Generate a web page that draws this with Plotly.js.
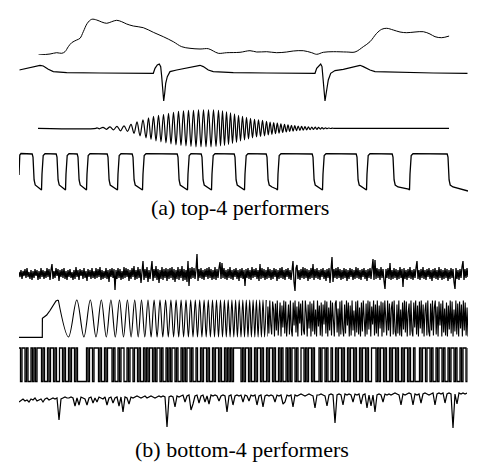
<!DOCTYPE html>
<html><head><meta charset="utf-8">
<script src="https://cdn.plot.ly/plotly-3.0.1.min.js"></script>
<style>html,body{margin:0;padding:0;background:#fff}</style>
</head><body>
<div id="chart" style="width:482px;height:465px"></div>
<script>
// ---- (a) top-4 performers ----
const t1 = [38.3,50,56.7,61.7,65,68.3,71.7,76.7,80,83.3,87.3,91.7,96.7,101.7,106.7,111.7,116.7,121.7,126.7,133.3,143.3,153.3,163.3,173.3,181.7,190,200,208.3,213.3,218.3,226.7,240,250,256.7,266.7,276.7,286.7,293.3,303.3,311.7,316.7,323.3,333.3,346.7,355,363.3,370,376.7,381.7,386.7,393.3,400,406.7,415,423.3,430,435,441.7,449.3];
const s1 = [0,1,2.3,1.7,3.3,8.3,12.3,15,16.7,23.3,31.7,35.7,35,33,31.7,33.3,34.7,33.3,31,29,27.3,22.7,18.3,13.3,8.3,6.7,6,6.3,4,1.7,2.3,2.7,4.3,3,3.3,2.3,3,4,4.3,2.3,0.7,2.7,3.3,3,3,8.3,13.3,21.7,25.7,26.7,25,23,22.3,23,23.3,21,18.3,17.3,19];

const t2 = [19.3,26.7,33.3,40,43.3,48.3,53.3,66.7,100,138.3,153.3,155,157.3,159.3,160.7,161.7,162.7,163.7,164.7,165.7,167.3,170,176.7,186.7,196.7,200,203.3,208.3,213.3,233.3,266.7,315,316.7,319.3,320.7,322,323.3,325,326.7,328.3,330.7,335,343.3,353.3,360,363.3,370,375,400,433.3,467.7];
const s2 = [3.3,5,6.7,8,7.3,4,1.7,0.7,0.3,0,0,5,8.3,9.3,6.7,-3.3,-16.7,-27.7,-20,-10,-3.3,1.7,3.3,5,7.3,8,6.7,3.3,1.7,0.7,0.3,0,5,8.3,9.3,6.7,-6.7,-27.7,-16.7,-6.7,0,2.7,4,6.7,8,6.7,3.3,1.7,1,0.3,0];

const t3 = [38,96,97,99.5,103,106.5,110,113.5,117,120.5,124,127.5,131,134,137,140,143,146,148.5,151,153.5,156,158.5,161,163.5,166,168.5,171,173.5,176,178.5,181,183.5,186,188.5,191,193.5,196,198.5,201,203.5,206,208.5,211,213.5,216,218.5,220.5,222.5,224.5,226.5,228.5,230.5,232.5,234.5,236.5,238.5,240.5,242.5,244.5,246.5,248.5,250.5,252.5,254.5,256.5,258.5,260.5,262.5,264.5,266.5,268.3,270.1,271.9,273.7,275.5,277.3,279.1,280.9,282.7,284.5,286.3,288,289.7,291.4,293.1,294.8,296.5,298.2,299.9,301.6,303.3,305,306.7,308.4,310.1,311.8,313.5,315.2,316.9,318.6,320.3,322,323.7,325.4,327.1,328.8,330.5,332.2,334,449];
const s3 = [0,0,0.5,-0.5,1,-1,1.5,-1.5,2,-2.5,2.5,-3,4,-5,6.5,-7.5,8.5,-9.5,10.5,-11,12,-12.5,13,-13.5,14,-14.5,15,-15.5,16,-16.5,17,-17,17.5,-17.5,18,-18,18,-18.5,18.5,-18.5,18.5,-18.5,18.5,-18.5,18.5,-18,18,-17.5,17.5,-17,16.5,-16,15.5,-15,14.5,-14,13,-12.5,12,-11.5,11,-10.5,10,-9.5,9,-8.5,8.5,-8,8,-7.5,7,-6.5,6.3,-6,5.7,-5.4,5.1,-4.8,4.5,-4.2,4,-3.7,3.4,-3.2,3,-2.8,2.6,-2.4,2.2,-2,1.9,-1.8,1.7,-1.6,1.5,-1.4,1.3,-1.2,1.1,-1,0.9,-0.8,0.7,-0.6,0.5,-0.4,0.3,-0.2,0.1,0,0];

const t4 = [19,19.3,19.8,21,
 32.2,33,33.5,34.1,35.2,38,40.5,41.5,42,42.4,43.2,45,
 56.2,57,57.5,58.1,59.2,62,64.5,65.5,66,66.4,67.2,69,
 77.2,78,78.5,79.1,80.2,83,85.5,86.5,87,87.4,88.2,90,
 107.2,108,108.5,109.1,110.2,113,116.5,117.5,118,118.4,119.2,121,
 132.2,133,133.5,134.1,135.2,138,141.5,142.5,143,143.4,144.2,146,
 177.2,178,178.5,179.1,180.2,183,186.5,187.5,188,188.4,189.2,191,
 201.2,202,202.5,203.1,204.2,207,210.5,211.5,212,212.4,213.2,215,
 234.2,235,235.5,236.1,237.2,240,243.5,244.5,245,245.4,246.2,248,
 266.2,267,267.5,268.1,269.2,272,276.5,277.5,278,278.4,279.2,281,
 312.2,313,313.5,314.1,315.2,318,321.5,322.5,323,323.4,324.2,326,
 356.2,357,357.5,358.1,359.2,362,365.5,366.5,367,367.4,368.2,370,
 392.2,393,393.5,394.1,395.2,398,408.5,409.5,410,410.4,411.2,413,
 447.2,448,448.5,449.1,450.2,453,468];
const s4 = [15,30,35,36.5,
 36,33,20,10,5,3,1,0,16,30,34.5,36.3,
 36,33,20,10,5,3,1,0,16,30,34.5,36.3,
 36,33,20,10,5,3,1,0,16,30,34.5,36.3,
 36,33,20,10,5,3,1,0,16,30,34.5,36.3,
 36,33,20,10,5,3,1,0,16,30,34.5,36.3,
 36,33,20,10,5,3,1,0,16,30,34.5,36.3,
 36,33,20,10,5,3,1,0,16,30,34.5,36.3,
 36,33,20,10,5,3,1,0,16,30,34.5,36.3,
 36,33,20,10,5,3,1,0,16,30,34.5,36.3,
 36,33,20,10,5,3,1,0,16,30,34.5,36.3,
 36,33,20,10,5,3,1,0,16,30,34.5,36.3,
 36,33,20,10,5,3,1,0,16,30,34.5,36.3,
 36,33,20,10,5,3,-1];

// ---- (b) bottom-4 performers ----
const s5 = [2,-3,4,-5,3,-2,5,-4,6,-3,2,-5,4,-6,3,-4,5,-2,4,-6,3,-5,6,-3,4,
 -5,3,-4,6,-3,5,-6,4,10,-5,3,-4,6,-2,5,-7,4,-3,5,-4,6,-5,3,-6,4,
 -3,5,-4,2,-6,4,-5,7,-3,4,-6,5,-2,4,-5,6,-4,3,-7,5,-3,4,-5,6,-4,
 3,-5,6,-4,5,-3,7,-6,4,-5,3,-4,6,-5,4,-8,5,-3,6,-4,5,-16,4,-5,6,
 -4,5,-6,3,-5,7,-4,6,-3,5,-7,4,-5,6,-3,8,-6,4,-5,7,-4,5,-9,6,13,
 -6,5,-4,7,-8,4,-5,6,13,-7,5,-4,8,-6,5,-9,4,-5,7,-6,5,-4,6,-7,5,
 -5,6,-4,7,-6,5,-8,4,-5,7,-6,5,-4,8,-7,5,-6,4,-8,13,-12,6,-5,7,-4,
 6,-5,4,20,-7,5,-4,6,-5,4,-6,5,-3,6,-5,7,-4,5,-6,4,-5,7,-6,5,-4,
 6,12,-5,11,-4,6,-5,4,-6,5,-4,7,-5,4,-6,5,-3,6,-5,4,-7,5,-4,6,-5,
 4,-12,5,-4,6,-5,4,-6,7,-4,5,-3,6,-5,4,-7,10,-5,6,-4,5,-6,4,-5,7,
 -4,5,-6,4,-5,6,-3,5,-7,4,-5,6,-4,7,-5,4,-6,5,-3,6,-5,4,-6,5,13,
 -8,-17,6,9,-5,4,-6,5,-4,7,-5,6,-4,5,-7,4,-5,6,-4,10,-6,5,-4,6,-5,
 4,-6,5,-3,6,-5,4,-7,5,-4,6,-9,8,17,-8,5,-4,6,-5,7,-4,5,-6,4,-5,
 6,-4,5,-7,4,-5,6,-3,5,-6,4,-5,7,-4,6,-5,4,-6,5,-3,6,-5,4,-7,5,
 -4,6,-5,4,15,-6,14,-5,6,-4,5,-6,7,-4,5,-7,-15,5,-4,6,-5,11,-6,4,-5,
 6,-4,5,-6,4,-5,7,-4,5,-13,6,-5,4,-6,5,-4,7,-5,4,-6,5,-4,6,13,-5,
 4,-6,5,-4,7,-5,4,-6,5,-3,6,-5,4,-7,5,-4,6,-5,4,-6,7,-4,5,-6,4,
 -5,6,-4,5,-7,4,-5,6,-4,5,-8,-15,6,-5,4,-6,5,-4,7,13,-6,5,-4,6,-3];

const t6a = [19,42.3,42.4,46.7,50,53.3,56,58.3];
const s6a = [-18.8,-18.8,0.2,3.5,8,13.5,17.5,18.5];
const t6b = [58.3,68.5,76.8,83.9,90.3,96,101.3,106.3,110.9,115.3,119.5,123.5,127.4,131.1,134.7,138.2,141.5,144.8,148,151.1,154.1,157.1,160,162.8,165.6,168.3,170.9,173.6,176.1,178.7,181.1,183.6,186,188.4,190.7,193,195.3,197.5,199.7,201.9,204.1,206.2,208.3,210.4,212.5,214.5,216.5,218.5,220.5,222.5,224.4,226.3,228.2,230.1,231.9,233.8,235.6,237.4,239.2,241,242.8,244.5,246.3,248,249.7,251.4,253.1,254.8,256.4,258.1,259.7,261.4,263,264.6,266.2];
const s6b = [18.5,-18.5,18.5,-18.5,18.5,-18.5,18.5,-18.5,18.5,-18.5,
 18.5,-18.5,18.5,-18.5,18.5,-18.5,18.5,-18.5,18.5,-18.5,
 18.5,-18.5,18.5,-18.5,18.5,-18.5,18.5,-18.5,18.5,-18.5,
 18.5,-18.5,18.5,-18.5,18.5,-18.5,18.5,-18.5,18.5,-18.5,
 18.5,-18.5,18.5,-18.5,18.5,-18.5,18.5,-18.5,18.5,-18.5,
 18.5,-18.5,18.5,-18.5,18.5,-18.5,18.5,-18.5,18.5,-18.5,
 18.5,-18.5,18.5,-18.5,18.5,-18.5,18.5,-18.5,18.5,-18.5,
 18.5,-18.5,18.5,-18.5,18.5];
const s6n = [-18,12,-15,18,-6,-16,17,9,-18,15,-12,18,-17,4,16,-18,13,-9,18,-15,
 17,-18,8,14,-16,18,-11,-18,16,-7,18,-14,12,-18,17,-5,15,-17,18,-12,
 -16,18,6,-18,14,-10,17,-18,15,-13,18,-16,9,-18,18,-8,13,-17,16,-18,
 14,-6,18,-15,17,-18,11,-12,18,-17,16,-9,-18,15,18,-14,10,-18,17,-16,
 18,-10,-18,14,-15,18,-7,16,-18,13,-17,18,-12,8,-18,17,-14,18,-16,11,
 -18,16,-13,18,-9,-18,15,-16,18,-11,17,-18,12,-6,18,-17,14,-15,18,-18,
 13,-10,17,-18,16,-14,18,-7,-17,18,-12,15,-18,10,17,-16,18,-13,-18,14,
 -15,18,-17,9,-18,16,-11,18,-14,17,-18,6,15,-17,18,-12,-18,16,-9,18,
 -16,13,-18,17,-10,18,-15,14,-18,8,16,-17,18,-13,-18,15,-12,18,-17,11,
 18,-16,12,-18,17,-7,15,-18,18,-14,10,-17,16,-18,13,-11,18,-15,17,-18,
 9,-13,18,-16,15,-18,17,-10,14,-18,18,-12,16,-17,11,-18];

const s7 = [1,0,1,1,0,1,0,0,1,0,1,0,1,1,1,0,1,0,0,1,0,1,1,0,1,0,0,1,1,0,
 1,0,0,1,0,1,1,0,1,0,0,0,0,0,0,1,0,1,1,0,1,1,1,0,1,0,0,1,0,1,
 1,1,0,1,0,0,1,0,1,1,0,0,1,0,1,1,0,1,1,0,1,0,0,1,0,1,0,1,1,0,
 1,0,1,1,0,1,0,0,1,0,1,0,1,1,0,1,0,0,1,0,1,0,1,1,0,1,0,0,1,0,
 0,1,0,1,1,0,1,0,0,1,0,1,1,0,1,0,0,1,0,1,0,1,0,1,1,1,1,1,0,1,
 0,1,1,0,1,0,0,1,0,1,1,0,1,0,0,1,0,1,1,0,1,0,0,1,0,1,0,0,1,0,
 1,0,1,1,0,1,0,0,1,1,0,1,0,1,1,0,1,0,0,0,1,0,1,1,0,1,0,0,1,0,
 0,1,0,1,1,0,1,0,0,1,0,1,1,0,1,0,0,1,0,1,1,0,1,0,0,1,1,1,0,1,
 0,1,1,0,1,0,0,1,0,1,1,0,1,0,0,1,0,1,1,0,1,0,0,1,0,0,0,1,0,1,
 1,0,1,1,0,1,0,0,1,0,1,1,0,1,0,0,1,0,1,1,0,1,0,0,1,0,1,1,0,1];

const s8 = [-2,0,1,-1,0,-2,1,0,2,-1,0,1,-2,1,2,0,1,2,1,2,-20,1,2,3,2,
 2,3,2,-6,2,-5,3,2,1,-5,2,3,-3,2,-2,3,2,1,3,-5,2,3,-3,2,3,
 -6,3,-12,3,2,-4,3,2,3,4,3,2,3,4,2,3,4,3,2,3,4,3,4,3,-27,
 3,4,3,-7,4,3,4,5,-2,4,5,-10,-4,4,5,-3,4,5,-2,4,-4,5,4,5,4,
 -1,4,5,4,-12,4,5,-5,4,5,4,5,-2,5,4,-1,5,4,5,-5,4,5,-7,4,5,
 4,5,4,-2,5,4,5,-4,-2,5,4,5,-7,5,4,5,6,5,4,5,6,5,4,-8,5,
 5,6,5,4,-6,5,6,5,-23,5,6,5,-5,6,5,6,5,-2,6,5,6,-4,5,6,-8,
 5,-6,5,-12,5,6,5,-2,6,5,6,5,6,7,6,5,-5,6,5,6,7,6,-5,6,5,
 6,-3,6,7,6,5,6,7,-5,6,7,6,7,-3,6,7,6,-28,6,-4,7,6,7,6,7];

const captions = ['(a) top-4 performers', '(b) bottom-4 performers'];

// ---- layout helpers (placement only) ----
const W = 482, H = 465;
const idx = a => a.map((_, i) => i);
const layout = {
  width: W, height: H, margin: {l:0, r:0, t:0, b:0},
  paper_bgcolor: '#fff', plot_bgcolor: 'rgba(0,0,0,0)', showlegend: false,
  annotations: []
};
function axes(n, xpx, xr, ypx, yr, yAnchorN) {
  const xa = n === 1 ? 'xaxis' : 'xaxis' + n;
  layout[xa] = {domain: [xpx[0]/W, xpx[1]/W], range: xr, visible: false, fixedrange: true,
                anchor: 'y' + (yAnchorN || n)};
  if (ypx) {
    const ya = n === 1 ? 'yaxis' : 'yaxis' + n;
    layout[ya] = {domain: [1 - ypx[1]/H, 1 - ypx[0]/H], range: yr, visible: false, fixedrange: true,
                  anchor: n === 1 ? 'x' : 'x' + n};
  }
}
const ref = n => (n === 1 ? '' : String(n));
const traces = [];
function line(n, yn, x, y, w, shape) {
  traces.push({type: 'scatter', mode: 'lines', x: x, y: y, xaxis: 'x' + ref(n), yaxis: 'y' + ref(yn),
    line: {color: '#000', width: w, shape: shape || 'linear', smoothing: 1},
    hoverinfo: 'skip'});
}

axes(1, [38.3, 449.3], [38.3, 449.3], [15, 55], [0, 40]);
line(1, 1, t1, s1, 1.0, 'spline');
axes(2, [19.3, 467.7], [19.3, 467.7], [61.3, 103.3], [-30, 12]);
line(2, 2, t2, s2, 1.2);
axes(3, [38, 449], [38, 449], [108.3, 148.3], [-20, 20]);
line(3, 3, t3, s3, 1.2, 'spline');
axes(4, [19, 468], [19, 468], [150, 193], [-3, 40]);
line(4, 4, t4, s4, 1.3);

axes(5, [19, 468], [0, s5.length - 1], [254, 296], [-22, 20]);
line(5, 5, idx(s5), s5, 1.3);
axes(6, [19, 468], [19, 468], [298.5, 338.5], [-20, 20]);
line(6, 6, t6a, s6a, 1.2);
line(6, 6, t6b, s6b, 1.1, 'spline');
axes(9, [267, 468], [0, s6n.length - 1], null, null, 6);
line(9, 6, idx(s6n), s6n, 1.1);
axes(7, [19, 467.5], [0, s7.length - 1], [346, 383.5], [-0.06, 1.06]);
line(7, 7, idx(s7), s7, 1.3, 'hv');
axes(8, [19, 467], [0, s8.length - 1], [390, 430], [-30, 10]);
line(8, 8, idx(s8), s8, 1.2);

const capY = [207, 449], capX = [240, 242];
captions.forEach((c, i) => layout.annotations.push({
  text: c, xref: 'paper', yref: 'paper', x: capX[i]/W, y: 1 - capY[i]/H,
  xanchor: 'center', yanchor: 'middle', showarrow: false,
  font: {family: 'Liberation Serif, Times New Roman, serif', size: 22, color: '#000'}
}));

Plotly.newPlot('chart', traces, layout, {staticPlot: true, displayModeBar: false});
</script>
</body></html>
